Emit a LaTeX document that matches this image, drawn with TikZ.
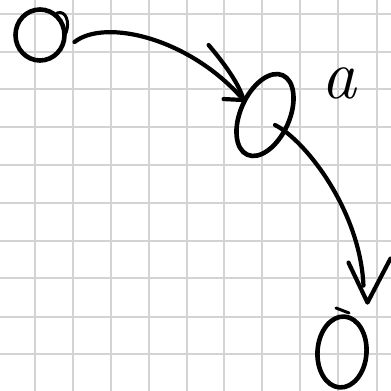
\documentclass[tikz,border=0pt]{standalone}
\usetikzlibrary{shapes.geometric,calc}
\definecolor{gridgray}{RGB}{211,211,211}
\begin{document}
\begin{tikzpicture}[x=1pt,y=-1pt,
  gridline/.style={draw=gridgray,line width=2pt},
  pen/.style={draw=black,line width=3pt,line cap=round,line join=round},
  conn/.style={draw=black,line width=4.2pt,line cap=round,line join=round},
  state/.style={ellipse,draw=black,line width=4.6pt,inner sep=0pt,outer sep=0pt}]
\fill[white] (0,0) rectangle (391,391);
\useasboundingbox (0,0) rectangle (391,391);
\foreach \x in {35,73,111,149,187,224,262,300,338,377} \draw[gridline] (\x,0) -- (\x,391);
\foreach \y in {14,52,89,127,165,203,241,278,317,354} \draw[gridline] (0,\y) -- (391,\y);
% states
\node[state,minimum width=49pt,minimum height=51pt] (A) at (40,35) {};
\node[state,rotate=-24,minimum width=49pt,minimum height=87pt] (B) at (265,115) {};
\node[state,rotate=-4,minimum width=49pt,minimum height=71pt] (C) at (342,352) {};
\node[anchor=base west,inner sep=0pt,font=\fontsize{70}{70}\selectfont\itshape] (lbl) at (321,98) {a};
% pen overshoots
\draw[pen] (57,13) .. controls (66,10) and (70,22) .. (66,33);
\draw[pen] (336,308) -- (349,313);
% edge A -> B
\coordinate (t1) at ([shift={(1,-5)}]B.west);
\draw[conn] ([shift={(10,7)}]A.east) .. controls (105,18) and (190,38) .. (t1);
\draw[conn] ([shift={(-35,-55)}]t1) .. controls ([shift={(-18,-35)}]t1) and ([shift={(-4,-15)}]t1) .. (t1) -- ([shift={(-20,-1)}]t1);
% edge B -> C
\coordinate (t2) at ([shift={(23,-14)}]C.north);
\draw[conn] ([shift={(10,10)}]B.center) .. controls (305,140) and (360,210) .. ([shift={(-4,-17)}]t2);
\draw[conn] ([shift={(-19,-40)}]t2) -- (t2) -- ([shift={(23,-44)}]t2);
\end{tikzpicture}
\end{document}
